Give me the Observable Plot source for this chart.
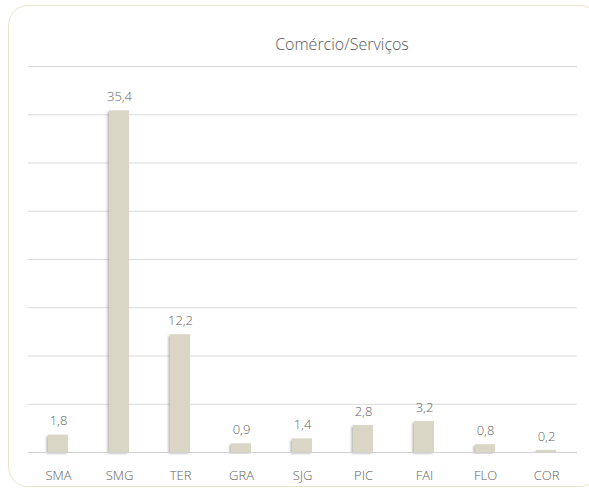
<!DOCTYPE html>
<html>
<head>
<meta charset="utf-8">
<script src="https://cdn.jsdelivr.net/npm/d3@7"></script>
<script src="https://cdn.jsdelivr.net/npm/@observablehq/plot@0.6"></script>
<style>
  html, body { margin: 0; padding: 0; background: #fff; }
  #wrap { position: relative; width: 589px; height: 490px; overflow: hidden; font-family: "Open Sans", sans-serif; }
  #frame { position: absolute; left: 7.5px; top: 4.5px; width: 592px; height: 482px; border: 1px solid #e9e5cc; border-radius: 20px; box-sizing: border-box; }
  #title { position: absolute; left: 242px; width: 200px; top: 33px; text-align: center; font-size: 16px; color: #595959; font-weight: 300; }
  #chart { position: absolute; left: 0; top: 0; }
</style>
</head>
<body>
<div id="wrap">
  <div id="frame"></div>
  <div id="chart"></div>
  <div id="title">Comércio/Serviços</div>
</div>
<script>
const categories = ["SMA", "SMG", "TER", "GRA", "SJG", "PIC", "FAI", "FLO", "COR"];
const values = [1.8, 35.4, 12.2, 0.9, 1.4, 2.8, 3.2, 0.8, 0.2];
const yTicks = [0, 5, 10, 15, 20, 25, 30, 35, 40];

const data = categories.map((c, i) => ({cat: c, value: values[i]}));
const fmt = v => v.toFixed(1).replace(".", ",");

const plot = Plot.plot({
  width: 589,
  height: 490,
  marginLeft: 28,
  marginRight: 12,
  marginTop: 66,
  marginBottom: 38,
  style: { fontFamily: "Open Sans, sans-serif", fontSize: "13px", color: "#626262", background: "transparent" },
  x: { domain: categories, paddingInner: 0.67, paddingOuter: 0.335, label: null },
  y: { domain: [0, 40], axis: null },
  marks: [
    Plot.ruleY(yTicks.filter(d => d > 0), { stroke: "#d9d9d9", strokeWidth: 1, strokeOpacity: 1 }),
    Plot.barY(data, { x: "cat", y: "value", fill: "#d9d6c6" }),
    Plot.ruleY([0], { stroke: "#d0d0d0", strokeWidth: 1.2 }),
    Plot.text(data, { x: "cat", y: "value", text: d => fmt(d.value), dy: -14, fill: "#626262", fontSize: 13, fontWeight: 300 }),
    Plot.axisX({ tickSize: 0, tickPadding: 18, fontSize: 13, fontWeight: 300, fill: "#626262", label: null })
  ]
});

// subtle shadow on bars
const svg = d3.select(plot);
const defs = svg.insert("defs", ":first-child");
const f = defs.append("filter").attr("id", "shadow").attr("x", "-50%").attr("y", "-10%").attr("width", "200%").attr("height", "130%");
f.append("feDropShadow").attr("dx", -1.5).attr("dy", 1.5).attr("stdDeviation", 1.2).attr("flood-color", "#777").attr("flood-opacity", 0.55);
svg.selectAll("g[aria-label='bar'] rect").attr("filter", "url(#shadow)");

document.getElementById("chart").appendChild(plot);
</script>
</body>
</html>
